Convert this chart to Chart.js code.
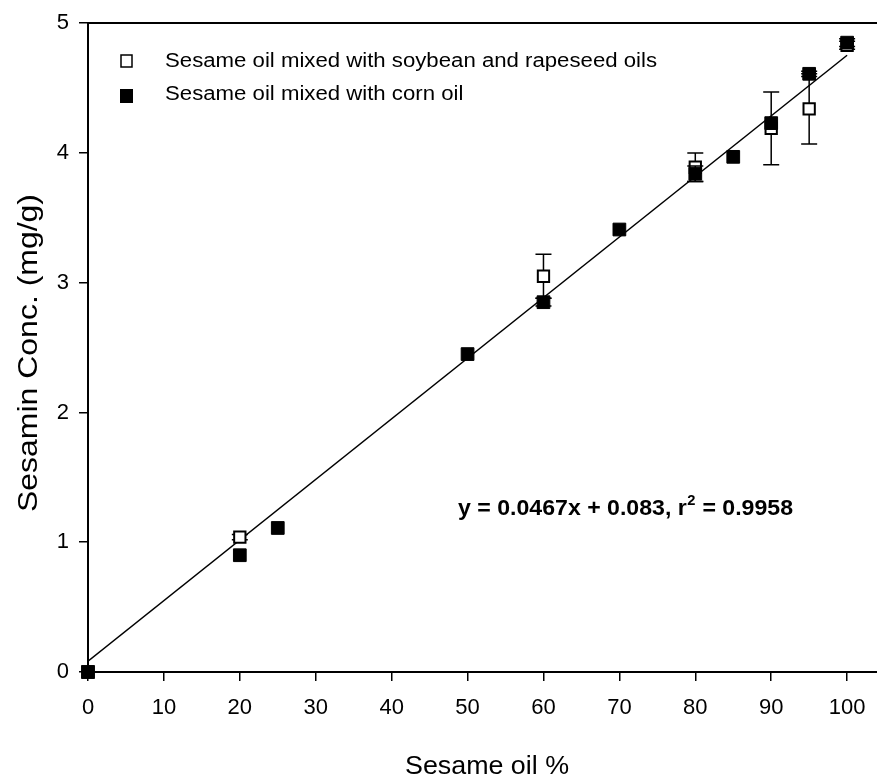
<!DOCTYPE html>
<html>
<head>
<meta charset="utf-8">
<script src="https://cdn.jsdelivr.net/npm/chart.js@4/dist/chart.umd.min.js"></script>
<style>
html,body{margin:0;padding:0;background:#fff;overflow:hidden;}
#wrap{width:877px;height:783px;overflow:hidden;}
</style>
</head>
<body>
<div id="wrap"><canvas id="c" width="889" height="783"></canvas></div>
<script>
// ---- data ----
const seriesNames = ['Sesame oil mixed with soybean and rapeseed oils', 'Sesame oil mixed with corn oil'];
const pctSoyRape = [0, 20, 60, 80, 90, 95, 100];
const concSoyRape = [0, 1.04, 3.05, 3.89, 4.19, 4.34, 4.83];
const errSoyRape = [0, 0.02, 0.17, 0.11, 0.28, 0.27, 0.03];
const pctCorn = [0, 20, 25, 50, 60, 70, 80, 85, 90, 95, 100];
const concCorn = [0, 0.90, 1.11, 2.45, 2.85, 3.41, 3.84, 3.97, 4.23, 4.61, 4.85];
const errCorn = [0, 0, 0, 0, 0.03, 0, 0.06, 0, 0, 0.02, 0.03];
const fitX = [0, 100];
const fitY = [0.083, 4.753];
const xTickValues = [0, 10, 20, 30, 40, 50, 60, 70, 80, 90, 100];
const yTickValues = [0, 1, 2, 3, 4, 5];
const xTitle = 'Sesame oil %';
const yTitle = 'Sesamin Conc. (mg/g)';
const eqMain = 'y = 0.0467x + 0.083, r';
const eqSup = '2';
const eqTail = ' = 0.9958';

const FONT = '"Liberation Sans", Arial, Helvetica, sans-serif';

const toPts = (xs, ys) => xs.map((x, i) => ({x: x, y: ys[i]}));

const errorBars = {
  id: 'errorBars',
  beforeDatasetDraw(chart, args) {
    const ds = chart.data.datasets[args.index];
    if (!ds.errors) return;
    const ctx = chart.ctx, xs = chart.scales.x, ys = chart.scales.y;
    ctx.save();
    ctx.strokeStyle = '#000';
    ctx.lineWidth = 1.5;
    ds.data.forEach((p, i) => {
      const e = ds.errors[i];
      if (!e) return;
      const px = xs.getPixelForValue(p.x);
      const t = ys.getPixelForValue(p.y + e), b = ys.getPixelForValue(p.y - e);
      ctx.beginPath();
      ctx.moveTo(px, t); ctx.lineTo(px, b);
      ctx.moveTo(px - 8, t); ctx.lineTo(px + 8, t);
      ctx.moveTo(px - 8, b); ctx.lineTo(px + 8, b);
      ctx.stroke();
    });
    ctx.restore();
  }
};

function drawScaled(ctx, text, x, y, font, sx, align) {
  ctx.save();
  ctx.font = font;
  ctx.translate(x, y);
  ctx.scale(sx, 1);
  ctx.textAlign = align || 'left';
  ctx.fillText(text, 0, 0);
  ctx.restore();
}

const annotations = {
  id: 'annotations',
  afterDraw(chart) {
    const ctx = chart.ctx;
    ctx.save();
    ctx.fillStyle = '#000';
    ctx.textBaseline = 'alphabetic';
    // legend
    const lf = 'normal 20px ' + FONT;
    ctx.font = lf;
    const lsx = 492 / ctx.measureText(seriesNames[0]).width;
    ctx.lineWidth = 1.5;
    ctx.strokeStyle = '#000';
    ctx.fillStyle = '#fff';
    ctx.fillRect(121, 55, 11, 12);
    ctx.strokeRect(121, 55, 11, 12);
    ctx.fillStyle = '#000';
    ctx.fillRect(120, 89, 13, 14);
    drawScaled(ctx, seriesNames[0], 165, 67, lf, lsx, 'left');
    drawScaled(ctx, seriesNames[1], 165, 100, lf, lsx, 'left');
    // x title
    const xf = 'normal 25px ' + FONT;
    ctx.font = xf;
    const xsx = 164 / ctx.measureText(xTitle).width;
    drawScaled(ctx, xTitle, 487, 774, xf, xsx, 'center');
    // y title
    const yf = 'normal 28px ' + FONT;
    ctx.font = yf;
    const ysx = 318 / ctx.measureText(yTitle).width;
    ctx.save();
    ctx.translate(37, 353);
    ctx.rotate(-Math.PI / 2);
    ctx.scale(ysx, 1);
    ctx.textAlign = 'center';
    ctx.font = yf;
    ctx.fillText(yTitle, 0, 0);
    ctx.restore();
    // equation
    const ef = 'bold 22px ' + FONT;
    const sf = 'bold 14px ' + FONT;
    ctx.font = ef;
    const w1 = ctx.measureText(eqMain).width;
    const w3 = ctx.measureText(eqTail).width;
    ctx.font = sf;
    const w2 = ctx.measureText(eqSup).width + 1;
    const esx = 335 / (w1 + w2 + w3);
    ctx.save();
    ctx.translate(458, 515);
    ctx.scale(esx, 1);
    ctx.textAlign = 'left';
    ctx.font = ef;
    ctx.fillText(eqMain, 0, 0);
    ctx.font = sf;
    ctx.fillText(eqSup, w1 + 0.5, -10);
    ctx.font = ef;
    ctx.fillText(eqTail, w1 + w2, 0);
    ctx.restore();
    ctx.restore();
  }
};

const axisGrid = {display: true, drawOnChartArea: false, drawTicks: true, tickLength: 9, color: '#000', lineWidth: 1.5};
const axisBorder = {display: true, color: '#000', width: 2};

new Chart(document.getElementById('c'), {
  type: 'scatter',
  data: {
    datasets: [
      {
        label: seriesNames[1],
        data: toPts(pctCorn, concCorn),
        errors: errCorn,
        pointStyle: 'rect',
        pointRadius: 9,
        pointHoverRadius: 9,
        backgroundColor: '#000',
        borderColor: '#000',
        borderWidth: 1,
        showLine: false,
        clip: false,
        order: 1
      },
      {
        label: seriesNames[0],
        data: toPts(pctSoyRape, concSoyRape),
        errors: errSoyRape,
        pointStyle: 'rect',
        pointRadius: 8,
        pointHoverRadius: 8,
        backgroundColor: '#fff',
        borderColor: '#000',
        borderWidth: 2,
        showLine: false,
        clip: false,
        order: 2
      },
      {
        label: 'fit',
        data: toPts(fitX, fitY),
        showLine: true,
        pointRadius: 0,
        borderColor: '#000',
        borderWidth: 1.5,
        fill: false,
        order: 3
      }
    ]
  },
  options: {
    responsive: false,
    animation: false,
    devicePixelRatio: 1,
    layout: {padding: {left: 0, right: 0, top: 0, bottom: 0}},
    plugins: {legend: {display: false}, tooltip: {enabled: false}, title: {display: false}},
    scales: {
      x: {
        type: 'linear', position: 'bottom', min: 0, max: 104.2,
        afterBuildTicks: s => { s.ticks = xTickValues.map(v => ({value: v})); },
        ticks: {font: {family: FONT, size: 22}, color: '#000', padding: 14, maxRotation: 0, autoSkip: false},
        grid: axisGrid, border: axisBorder,
        afterFit: s => { s.height = 111; }
      },
      xTop: {
        type: 'linear', position: 'top', min: 0, max: 104.2,
        ticks: {display: false},
        grid: {display: false, drawTicks: false},
        border: axisBorder,
        afterFit: s => { s.height = 22; }
      },
      y: {
        type: 'linear', position: 'left', min: 0, max: 5,
        afterBuildTicks: s => { s.ticks = yTickValues.map(v => ({value: v})); },
        ticks: {font: {family: FONT, size: 22}, color: '#000', padding: 10},
        grid: axisGrid, border: axisBorder,
        afterFit: s => { s.width = 88; }
      }
    }
  },
  plugins: [errorBars, annotations]
});
</script>
</body>
</html>
